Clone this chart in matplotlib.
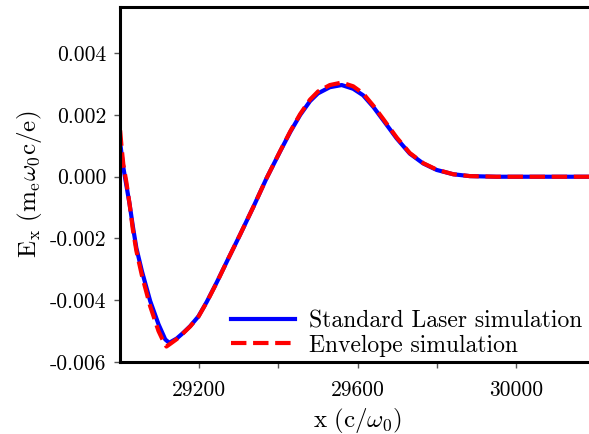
import matplotlib
matplotlib.use("Agg")
import matplotlib.pyplot as plt
from matplotlib.ticker import FormatStrFormatter

plt.rcParams.update({
    "font.family": ["cmr10", "DejaVu Serif"],
    "mathtext.fontset": "cm",
    "axes.unicode_minus": False,
    "axes.formatter.use_mathtext": False,
    "font.size": 15.5,
})

# Standard laser simulation (blue, solid)
x_std = [29000, 29004, 29008, 29016, 29024, 29032, 29041, 29055, 29076, 29097,
         29114, 29124, 29143, 29160, 29177, 29198, 29219, 29245, 29270, 29303,
         29337, 29370, 29404, 29430, 29455, 29480, 29500, 29530, 29560, 29589,
         29614, 29640, 29665, 29699, 29732, 29766, 29800, 29842, 29884, 29951,
         30050, 30200]
ex_std = [0.0011, 0.0007, 0.0003, -0.0003, -0.0009, -0.0016, -0.00231, -0.00306,
          -0.00403, -0.00478, -0.00527, -0.00538, -0.00524, -0.00505, -0.00484,
          -0.00452, -0.00405, -0.00340, -0.00274, -0.00188, -0.00097, -0.00005,
          0.00081, 0.00145, 0.00200, 0.00245, 0.00270, 0.00290, 0.00297, 0.00285,
          0.00264, 0.00226, 0.00183, 0.00124, 0.00075, 0.00043, 0.00022, 0.00008,
          0.00002, 0.0, 0.0, 0.0]

# Envelope simulation (red, dashed)
x_env = [29000, 29004, 29008, 29016, 29024, 29032, 29041, 29055, 29076, 29097,
         29108, 29117, 29128, 29143, 29160, 29177, 29198, 29219, 29245, 29270,
         29303, 29337, 29370, 29404, 29430, 29455, 29480, 29500, 29530, 29560,
         29589, 29614, 29640, 29665, 29699, 29732, 29766, 29800, 29842, 29884,
         29951, 30050, 30200]
ex_env = [0.0015, 0.0009, 0.0004, -0.0002, -0.0009, -0.0017, -0.0024, -0.0032,
          -0.0042, -0.0050, -0.0053, -0.0055, -0.0054, -0.00526, -0.00506, -0.00485,
          -0.00453, -0.00406, -0.00341, -0.00274, -0.00188, -0.00097, -0.00005,
          0.00082, 0.00147, 0.00203, 0.00250, 0.00276, 0.00297, 0.00305, 0.00293,
          0.00270, 0.00230, 0.00187, 0.00127, 0.00077, 0.00044, 0.00023, 0.00008,
          0.00002, 0.0, 0.0, 0.0]

xticks = [29200, 29400, 29600, 29800, 30000]
xticklabels = ["29200", "", "29600", "", "30000"]
yticks = [-0.006, -0.004, -0.002, 0.0, 0.002, 0.004]

fig = plt.figure(figsize=(5.89, 4.34), dpi=100)
ax = fig.add_axes([0.204, 0.166, 0.806, 0.818])

ax.plot(x_std, ex_std, color="blue", lw=3, label="Standard Laser simulation")
ax.plot(x_env, ex_env, color="red", lw=3, ls="--", label="Envelope simulation")

ax.set_xlim(29000, 30200)
ax.set_ylim(-0.006, 0.0055)
ax.set_xticks(xticks)
ax.set_xticklabels(xticklabels)
ax.set_yticks(yticks)
ax.yaxis.set_major_formatter(FormatStrFormatter("%.3f"))
ax.tick_params(direction="out", length=4, width=1, color="#555555")
ax.tick_params(axis="x", pad=9)
ax.tick_params(axis="y", pad=6)

for s in ax.spines.values():
    s.set_linewidth(2.2)

ax.set_xlabel(r"$\mathrm{x\ \left(c/\omega_0\right)}$", fontsize=18, labelpad=5)
ax.set_ylabel(r"$\mathrm{E_x\ \left(m_e\omega_0 c/e\right)}$", fontsize=18, labelpad=4)

ax.legend(loc="lower right", frameon=False, fontsize=17, handlelength=2.7,
          handletextpad=0.6, borderaxespad=0.1, labelspacing=0.1,
          bbox_to_anchor=(0.998, -0.018))

fig.savefig("out.png", dpi=100)
